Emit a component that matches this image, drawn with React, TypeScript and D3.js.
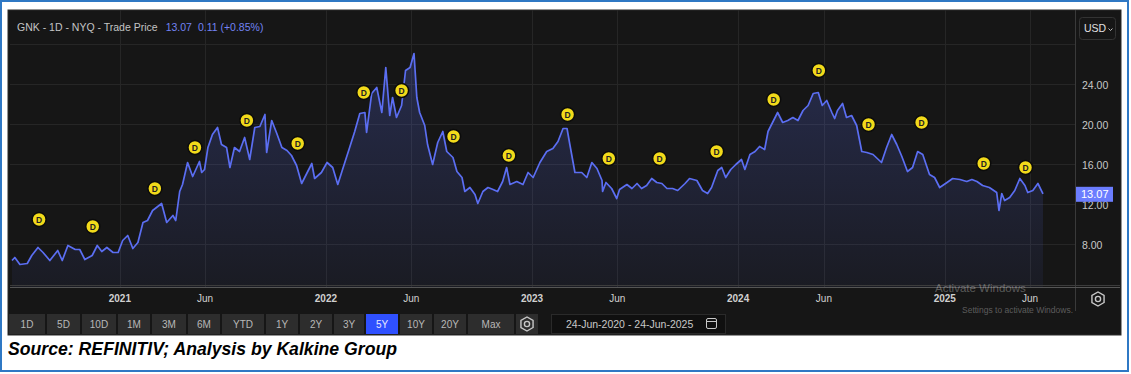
import React from 'react';
import * as d3 from 'd3';

const W = 1131, H = 374;

// closing prices, [date, price]
const prices2020: [string, number][] = [
  ['2020-06-24', 6.4], ['2020-06-29', 6.7], ['2020-07-08', 6.0], ['2020-07-21', 6.1],
  ['2020-07-29', 6.9], ['2020-08-09', 7.7], ['2020-08-18', 7.2], ['2020-08-30', 6.4],
  ['2020-09-13', 7.4], ['2020-09-21', 6.4], ['2020-10-01', 7.9], ['2020-10-14', 7.5],
  ['2020-10-22', 7.5], ['2020-10-31', 6.5], ['2020-11-13', 6.9], ['2020-11-22', 7.9],
  ['2020-11-30', 7.3], ['2020-12-09', 7.7], ['2020-12-20', 7.2], ['2020-12-29', 7.2],
];
const prices2021: [string, number][] = [
  ['2021-01-06', 8.4], ['2021-01-15', 8.9], ['2021-01-24', 7.6], ['2021-02-02', 8.2],
  ['2021-02-11', 10.2], ['2021-02-19', 10.4], ['2021-02-28', 11.4], ['2021-03-16', 12.1],
  ['2021-03-25', 10.2], ['2021-04-05', 10.9], ['2021-04-10', 10.4], ['2021-04-17', 13.3],
  ['2021-04-22', 14.0], ['2021-05-01', 16.2], ['2021-05-10', 14.8], ['2021-05-22', 16.3],
  ['2021-05-26', 15.2], ['2021-05-31', 15.5], ['2021-06-06', 17.7], ['2021-06-14', 19.0],
  ['2021-06-23', 19.7], ['2021-06-30', 18.0], ['2021-07-09', 17.7], ['2021-07-15', 15.7],
  ['2021-07-23', 17.7], ['2021-08-01', 17.3], ['2021-08-10', 18.7], ['2021-08-19', 16.5],
  ['2021-08-28', 19.7], ['2021-09-06', 19.8], ['2021-09-15', 21.0], ['2021-09-18', 17.2],
  ['2021-09-27', 20.4], ['2021-10-06', 19.1], ['2021-10-15', 17.7], ['2021-10-24', 17.4],
  ['2021-11-01', 16.9], ['2021-11-10', 15.9], ['2021-11-19', 14.1], ['2021-11-28', 15.1],
  ['2021-12-07', 16.1], ['2021-12-12', 14.6], ['2021-12-24', 15.2],
];
const prices2022: [string, number][] = [
  ['2022-01-03', 16.2], ['2022-01-13', 15.7], ['2022-01-22', 14.0], ['2022-01-31', 15.6],
  ['2022-02-12', 17.7], ['2022-02-21', 19.3], ['2022-03-02', 21.1], ['2022-03-11', 21.2],
  ['2022-03-14', 19.2], ['2022-03-23', 23.1], ['2022-04-01', 23.7], ['2022-04-10', 21.2],
  ['2022-04-17', 25.7], ['2022-04-24', 20.9], ['2022-04-29', 22.7], ['2022-05-06', 20.7],
  ['2022-05-15', 21.9], ['2022-05-22', 25.4], ['2022-05-30', 25.7], ['2022-06-06', 27.1],
  ['2022-06-11', 22.7], ['2022-06-16', 21.2], ['2022-06-25', 19.9], ['2022-06-30', 18.0],
  ['2022-07-09', 16.0], ['2022-07-18', 18.2], ['2022-07-27', 19.3], ['2022-08-03', 17.3],
  ['2022-08-14', 16.7], ['2022-08-21', 15.3], ['2022-08-30', 14.7], ['2022-09-04', 13.3],
  ['2022-09-13', 13.7], ['2022-09-22', 13.0], ['2022-09-27', 12.1], ['2022-10-06', 13.3],
  ['2022-10-15', 13.7], ['2022-10-24', 13.5], ['2022-11-01', 13.3], ['2022-11-10', 14.3],
  ['2022-11-17', 15.7], ['2022-11-23', 14.0], ['2022-12-05', 14.3], ['2022-12-16', 14.0],
  ['2022-12-25', 15.2],
];
const prices2023: [string, number][] = [
  ['2023-01-03', 14.7], ['2023-01-15', 16.2], ['2023-01-27', 17.3], ['2023-02-07', 17.6],
  ['2023-02-16', 18.3], ['2023-02-25', 19.6], ['2023-03-04', 19.6], ['2023-03-09', 18.0],
  ['2023-03-18', 15.2], ['2023-03-30', 15.2], ['2023-04-08', 14.7], ['2023-04-17', 16.2],
  ['2023-04-26', 15.6], ['2023-05-05', 14.4], ['2023-05-06', 13.3], ['2023-05-12', 14.2],
  ['2023-05-22', 13.6], ['2023-05-31', 12.6], ['2023-06-05', 13.5], ['2023-06-18', 14.0],
  ['2023-06-27', 13.6], ['2023-07-06', 14.1], ['2023-07-14', 13.6], ['2023-07-23', 13.9],
  ['2023-08-01', 14.6], ['2023-08-10', 14.2], ['2023-08-19', 14.1], ['2023-08-28', 13.6],
  ['2023-09-07', 13.6], ['2023-09-16', 13.4], ['2023-09-29', 14.1], ['2023-10-07', 14.6],
  ['2023-10-20', 14.4], ['2023-10-30', 13.4], ['2023-11-08', 13.1], ['2023-11-15', 13.7],
  ['2023-11-26', 15.4], ['2023-12-03', 15.7], ['2023-12-10', 14.7], ['2023-12-19', 15.5],
  ['2023-12-28', 16.0],
];
const prices2024: [string, number][] = [
  ['2024-01-07', 16.5], ['2024-01-13', 15.5], ['2024-01-22', 17.0], ['2024-01-31', 17.3],
  ['2024-02-08', 17.8], ['2024-02-17', 17.5], ['2024-02-23', 19.3], ['2024-03-02', 20.2],
  ['2024-03-11', 21.2], ['2024-03-20', 20.2], ['2024-03-29', 20.4], ['2024-04-07', 20.7],
  ['2024-04-16', 20.4], ['2024-04-25', 21.4], ['2024-05-04', 21.9], ['2024-05-13', 23.1],
  ['2024-05-22', 23.2], ['2024-05-29', 21.9], ['2024-06-06', 22.4], ['2024-06-15', 21.2],
  ['2024-06-20', 20.6], ['2024-06-25', 21.4], ['2024-07-04', 22.1], ['2024-07-11', 20.7],
  ['2024-07-20', 20.9], ['2024-07-29', 19.9], ['2024-08-07', 17.3], ['2024-08-16', 17.2],
  ['2024-08-27', 17.0], ['2024-09-11', 16.2], ['2024-09-20', 17.7], ['2024-09-29', 19.0],
  ['2024-10-08', 18.0], ['2024-10-17', 16.8], ['2024-10-27', 15.3], ['2024-11-05', 15.7],
  ['2024-11-14', 17.3], ['2024-11-23', 17.0], ['2024-12-05', 15.0], ['2024-12-14', 14.7],
  ['2024-12-23', 13.7],
];
const prices2025: [string, number][] = [
  ['2025-01-05', 14.2], ['2025-01-15', 14.6], ['2025-01-28', 14.5], ['2025-02-09', 14.3],
  ['2025-02-18', 14.5], ['2025-02-27', 14.3], ['2025-03-09', 13.9], ['2025-03-21', 13.7],
  ['2025-04-03', 13.2], ['2025-04-07', 11.4], ['2025-04-12', 13.1], ['2025-04-17', 12.4],
  ['2025-04-26', 12.7], ['2025-05-05', 13.4], ['2025-05-14', 14.6], ['2025-05-23', 13.9],
  ['2025-05-28', 13.2], ['2025-06-06', 13.4], ['2025-06-15', 14.1], ['2025-06-24', 13.07],
];

// dividend flags: [date, price level the flag sits at]
const dividends: [string, number][] = [
  ['2020-08-11', 10.5], ['2020-11-14', 9.8], ['2021-03-04', 13.6], ['2021-05-14', 17.7],
  ['2021-08-14', 20.4], ['2021-11-12', 18.1], ['2022-03-09', 23.2], ['2022-05-15', 23.4],
  ['2022-08-15', 18.8], ['2022-11-21', 16.9], ['2023-03-05', 21.0], ['2023-05-17', 16.6],
  ['2023-08-15', 16.6], ['2023-11-24', 17.3], ['2024-03-04', 22.5], ['2024-05-23', 25.4],
  ['2024-08-19', 20.0], ['2024-11-21', 20.2], ['2025-03-11', 16.1], ['2025-05-24', 15.7],
];

const priceTicks = [8, 12, 16, 20, 24];
const gridPrices = [8, 12, 16, 20, 24, 28];
const xTicks: [string, string][] = [
  ['2021-01-01', '2021'], ['2021-06-01', 'Jun'], ['2022-01-01', '2022'], ['2022-06-01', 'Jun'],
  ['2023-01-01', '2023'], ['2023-06-01', 'Jun'], ['2024-01-01', '2024'], ['2024-06-01', 'Jun'],
  ['2025-01-01', '2025'], ['2025-06-01', 'Jun'],
];
const rangeButtons = ['1D', '5D', '10D', '1M', '3M', '6M', 'YTD', '1Y', '2Y', '3Y', '5Y', '10Y', '20Y', 'Max'];
const buttonWidths = [36, 33, 34, 32, 34, 32, 42, 32, 32, 30, 32, 32, 32, 46];
const activeRange = '5Y';
const lastPrice = 13.07;
const header = 'GNK - 1D - NYQ - Trade Price';
const change = '0.11 (+0.85%)';

const parse = d3.timeParse('%Y-%m-%d');
const series = [...prices2020, ...prices2021, ...prices2022, ...prices2023, ...prices2024, ...prices2025]
  .map(([d, v]) => ({ date: parse(d) as Date, value: v }));

const FONT = '"Liberation Sans", Arial, sans-serif';
const PLOT = { left: 10, right: 1075, top: 10, bottom: 287 };

function Gear({ x, y }: { x: number; y: number }) {
  const hex = d3.range(6).map(i => {
    const a = Math.PI / 6 + (i * Math.PI) / 3;
    return [x + 7 * Math.cos(a), y + 7 * Math.sin(a)];
  });
  return (
    <g>
      <polygon points={hex.map(p => p.join(',')).join(' ')} fill="none" stroke="#c8c8c8" strokeWidth={1.4} />
      <circle cx={x} cy={y} r={2.6} fill="none" stroke="#c8c8c8" strokeWidth={1.4} />
    </g>
  );
}

export default function App() {
  const x = d3.scaleTime()
    .domain([parse('2020-06-24') as Date, parse('2025-06-24') as Date])
    .range([12, 1043]);
  const y = d3.scaleLinear().domain([8, 24]).range([244.5, 84.5]);

  const line = d3.line<{ date: Date; value: number }>()
    .x(d => x(d.date))
    .y(d => y(d.value));
  const area = d3.area<{ date: Date; value: number }>()
    .x(d => x(d.date))
    .y0(PLOT.bottom)
    .y1(d => y(d.value));

  let bx = 9;
  const buttons = rangeButtons.map((label, i) => {
    const b = { label, x: bx, w: buttonWidths[i] };
    bx += buttonWidths[i] + 2;
    return b;
  });

  return (
    <svg width={W} height={H} style={{ position: 'absolute', left: 0, top: 0 }} fontFamily={FONT}>
      <defs>
        <linearGradient id="fill" x1="0" y1="0" x2="0" y2="1">
          <stop offset="0%" stopColor="#5a6ef0" stopOpacity={0.25} />
          <stop offset="100%" stopColor="#5a6ef0" stopOpacity={0.06} />
        </linearGradient>
        <clipPath id="plotClip">
          <rect x={PLOT.left} y={PLOT.top} width={PLOT.right - PLOT.left} height={PLOT.bottom - PLOT.top} />
        </clipPath>
      </defs>
      <rect width={W} height={H} fill="#ffffff" />
      <rect x={1} y={1} width={1127} height={370} fill="none" stroke="#2f78c4" strokeWidth={2} />
      <rect x={8} y={10} width={1113} height={325} fill="#161616" stroke="#2a2a2a" />

      {/* grid */}
      {gridPrices.map(p => (
        <line key={p} x1={PLOT.left} x2={PLOT.right} y1={y(p)} y2={y(p)} stroke="#262626" />
      ))}
      {xTicks.map(([d]) => {
        const xx = Math.round(x(parse(d) as Date)) + 0.5;
        return <line key={d} x1={xx} x2={xx} y1={PLOT.top} y2={PLOT.bottom} stroke="#262626" />;
      })}

      <g clipPath="url(#plotClip)">
        <path d={area(series) || ''} fill="url(#fill)" />
        <path d={line(series) || ''} fill="none" stroke="#5b6ef2" strokeWidth={1.7} strokeLinejoin="round" />
      </g>

      {/* dividend flags */}
      {dividends.map(([d, v]) => {
        const cx = x(parse(d) as Date), cy = y(v);
        return (
          <g key={d}>
            <circle cx={cx} cy={cy} r={7} fill="#f2da1a" stroke="#0b0b0b" strokeWidth={1.5} />
            <text x={cx} y={cy + 3} textAnchor="middle" fontSize={8.5} fontWeight="bold" fill="#222">D</text>
          </g>
        );
      })}

      {/* header */}
      <text x={17} y={31} fontSize={10.5} fill="#c4c4c4">
        {header}
        <tspan dx={8} fill="#7283f2">{lastPrice.toFixed(2)}</tspan>
        <tspan dx={6} fill="#7283f2">{change}</tspan>
      </text>

      {/* right axis */}
      <line x1={PLOT.right + 0.5} x2={PLOT.right + 0.5} y1={PLOT.top} y2={311} stroke="#3a3a3a" />
      <rect x={1079.5} y={17.5} width={36} height={22} rx={3} fill="none" stroke="#333" />
      <text x={1084} y={32} fontSize={10.5} fill="#e0e0e0">USD</text>
      <path d="M1108.5,28.5 l2,2 l2,-2" fill="none" stroke="#bbb" strokeWidth={1} />
      {priceTicks.map(p => (
        <text key={p} x={1082} y={y(p) + 4} fontSize={10.5} fill="#c8c8c8">{p.toFixed(2)}</text>
      ))}
      <rect x={1076} y={y(lastPrice) - 7} width={37} height={15} fill="#6b7dff" />
      <text x={1081} y={y(lastPrice) + 4.5} fontSize={11} fill="#ffffff">{lastPrice.toFixed(2)}</text>

      {/* x axis */}
      <line x1={PLOT.left} x2={1120} y1={285.5} y2={285.5} stroke="#3c3c3c" />
      <line x1={PLOT.left} x2={1120} y1={287.5} y2={287.5} stroke="#555" />
      {xTicks.map(([d, label]) => (
        <text key={d} x={x(parse(d) as Date)} y={302} textAnchor="middle" fontSize={10}
          fontWeight={label === 'Jun' ? 'normal' : 'bold'} fill="#d0d0d0">{label}</text>
      ))}
      <text x={935} y={292} fontSize={11.5} fill="#ffffff" fillOpacity={0.3}>Activate Windows</text>
      <text x={962} y={312.5} fontSize={8.5} fill="#ffffff" fillOpacity={0.3}>Settings to activate Windows.</text>
      <Gear x={1098} y={299} />

      {/* range buttons */}
      {buttons.map(b => (
        <g key={b.label}>
          <rect x={b.x} y={314} width={b.w} height={20} fill={b.label === activeRange ? '#2f50ff' : '#2d2d2d'} />
          <text x={b.x + b.w / 2} y={328} textAnchor="middle" fontSize={10}
            fill={b.label === activeRange ? '#e8e8ff' : '#b8b8b8'}>{b.label}</text>
        </g>
      ))}
      <rect x={bx} y={314} width={22} height={20} fill="#2d2d2d" />
      <Gear x={bx + 11} y={324} />

      <rect x={551.5} y={314.5} width={174} height={19} fill="#101010" stroke="#2a2a2a" />
      <text x={566} y={328} fontSize={10.5} fill="#c8c8c8">24-Jun-2020 - 24-Jun-2025</text>
      <rect x={706.5} y={318.5} width={10} height={10} rx={1.5} fill="none" stroke="#c8c8c8" />
      <line x1={706.5} x2={716.5} y1={321.5} y2={321.5} stroke="#c8c8c8" />

      <text x={8} y={355} fontSize={18} fontWeight="bold" fontStyle="italic" fill="#000"
        textLength={389} lengthAdjust="spacingAndGlyphs">Source: REFINITIV; Analysis by Kalkine Group</text>
    </svg>
  );
}
